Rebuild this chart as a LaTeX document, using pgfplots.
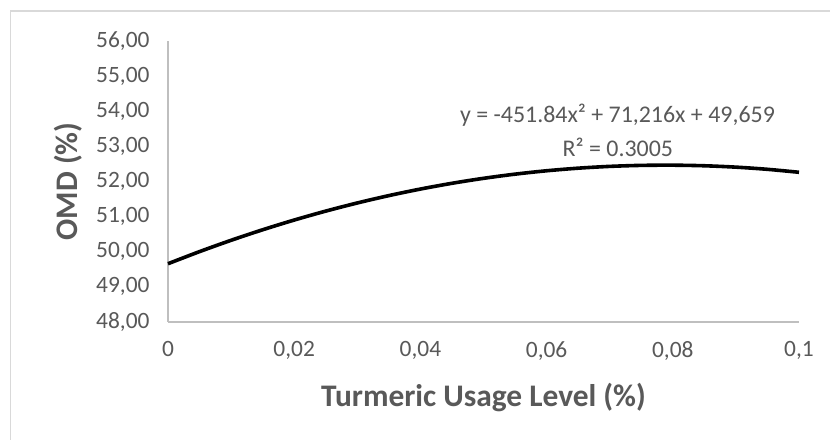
\documentclass[border=0pt]{standalone}
\usepackage{pgfplots}
\pgfplotsset{compat=1.18}
\usepackage{fontspec}
\setmainfont{Carlito}
\definecolor{txt}{HTML}{595959}
\definecolor{axc}{HTML}{BFBFBF}
\definecolor{frm}{HTML}{D9D9D9}
\pgfplotstableread{
x y
0.000 49.65900
0.005 50.00378
0.010 50.32598
0.015 50.62558
0.020 50.90258
0.025 51.15700
0.030 51.38882
0.035 51.59806
0.040 51.78470
0.045 51.94874
0.050 52.09020
0.055 52.20906
0.060 52.30534
0.065 52.37902
0.070 52.43010
0.075 52.45860
0.080 52.46450
0.085 52.44782
0.090 52.40854
0.095 52.34666
0.100 52.26220
}\trend
\begin{document}
\begin{tikzpicture}[x=1bp,y=1bp]
\useasboundingbox (0,0) rectangle (830,440);
\fill[white] (0,0) rectangle (830,440);
\draw[frm, line width=1.5bp] (10.5,0) -- (10.5,429) -- (830,429);
\begin{axis}[
  at={(168bp,118bp)}, anchor=south west,
  scale only axis, width=631bp, height=281bp,
  xmin=0, xmax=0.1, ymin=48, ymax=56,
  axis lines=left,
  axis line style={-, axc, line width=1.2bp},
  major tick length=0pt,
  xtick={0,0.02,0.04,0.06,0.08,0.1},
  ytick={48,49,50,51,52,53,54,55,56},
  /pgf/number format/assume math mode=true,
  xticklabel style={font=\fontsize{23.5}{27}\selectfont, text=txt, yshift=-16bp,
    /pgf/number format/.cd, fixed, precision=2, use comma},
  yticklabel style={font=\fontsize{23.5}{27}\selectfont, text=txt, xshift=-15bp,
    /pgf/number format/.cd, fixed, fixed zerofill, precision=2, use comma},
  scaled x ticks=false,
  xlabel={\bfseries Turmeric Usage Level (\%)},
  ylabel={\bfseries OMD (\%)},
  xlabel style={font=\fontsize{31.5}{36}\selectfont, text=txt, at={(axis description cs:0.5,-0.27)}, anchor=center},
  ylabel style={font=\fontsize{31.5}{36}\selectfont, text=txt, at={(axis description cs:-0.158,0.5)}, anchor=center, rotate=0},
  clip=false,
]
\addplot[black, line width=3.6bp, smooth] table[x=x,y=y] {\trend};
\node[anchor=east, font=\fontsize{24}{28}\selectfont, text=txt, inner sep=0pt] at (axis cs:0.0962,53.89) {y = -451.84x² + 71,216x + 49,659};
\node[anchor=center, font=\fontsize{24}{28}\selectfont, text=txt, inner sep=0pt] at (axis cs:0.0713,52.98) {R² = 0.3005};
\end{axis}
\end{tikzpicture}
\end{document}
